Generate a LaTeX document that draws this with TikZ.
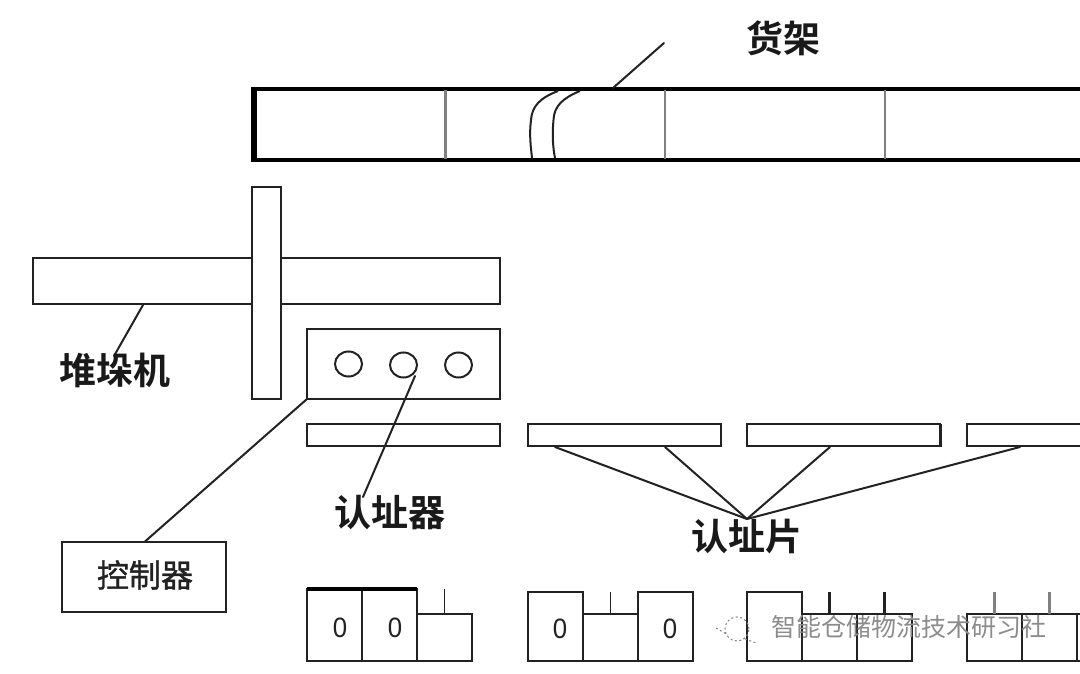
\documentclass[tikz,border=0pt]{standalone}
\usepackage{fontspec}
\setmainfont{Liberation Sans}
\newfontfamily\cjkbold{Noto Sans CJK SC Bold}
\newfontfamily\cjkreg{Noto Sans CJK SC}
\newfontfamily\cjkmed[FakeBold=1.2]{Noto Sans CJK SC}
\definecolor{ink}{HTML}{222222}
\tikzset{
  box/.style={draw=ink,line width=1.9pt,fill=white,anchor=north west,inner sep=0pt,outer sep=0pt},
  strip/.style={box,minimum width=193pt,minimum height=22pt},
  cell/.style={box,minimum width=55pt},
  hole/.style={draw=ink,line width=2pt,ellipse,minimum width=27pt,minimum height=25pt,inner sep=0pt,outer sep=0pt},
  leader/.style={draw=ink,line width=2pt,line cap=round},
  divider/.style={draw=black!50,line width=2.2pt},
  tick/.style={draw=ink,line width=1.7pt},
  biglabel/.style={font=\fontsize{37}{37}\selectfont\cjkbold,inner sep=0pt,text=black!90},
  digit/.style={font=\fontsize{28}{28}\selectfont,inner sep=0pt,text=ink,xscale=.92},
  mark text/.style={font=\fontsize{25}{25}\selectfont\cjkreg,inner sep=0pt,text=black!45},
}
\usetikzlibrary{shapes.geometric}
\begin{document}
\begin{tikzpicture}[x=1pt,y=-1pt]
\useasboundingbox (0,0) rectangle (1080,674);
\clip (0,0) rectangle (1080,674);
\fill[white] (0,0) rectangle (1080,674);

% rack
\node[box,draw=black,line width=3.5pt,minimum width=840pt,minimum height=71pt] (rack) at (252.5,89) {};
\fill[black] (252,87.5) rectangle (257,161);
\coordinate (d1t) at (445.5,90); \coordinate (d1b) at (445.5,159);
\coordinate (d2t) at (665,90); \coordinate (d2b) at (665,159);
\coordinate (d3t) at (885,90); \coordinate (d3b) at (885,159);
\draw[divider] (d1t) -- (d1b);
\draw[divider] (d2t) -- (d2b);
\draw[divider] (d3t) -- (d3b);
\coordinate (c1a) at (558,91); \coordinate (c1b) at (532,158);
\coordinate (c2a) at (580,91); \coordinate (c2b) at (555,158);
\draw[leader,line cap=butt] (c1a) .. controls (540,98) and (532,106) .. (531,120) .. controls (529,135) and (531,148) .. (c1b);
\draw[leader,line cap=butt] (c2a) .. controls (563,98) and (554,106) .. (553.5,120) .. controls (552,135) and (553,148) .. (c2b);
\coordinate (rackTip) at (664,43); \coordinate (rackFoot) at (613,88);
\draw[leader] (rackTip) -- (rackFoot);
\node[biglabel] (lrack) at (783.5,38) {货架};

% stacker
\node[box,minimum width=467pt,minimum height=46pt] (beam) at (33,258) {};
\node[box,minimum width=29pt,minimum height=212pt] (mast) at (252,187) {};
\node[box,minimum width=193pt,minimum height=70pt] (reader) at (307,329) {};
\node[hole] (h1) at (348.5,364) {};
\node[hole] (h2) at (403.5,365) {};
\node[hole] (h3) at (458.5,365) {};
\coordinate (beamFoot) at (143,305);
\coordinate (beamEnd) at (114,356);
\draw[leader] (beamFoot) -- (beamEnd);
\node[biglabel] (lstack) at (115,370) {堆垛机};

% strips
\node[strip] (s0) at (307,424) {};
\node[strip] (s1) at (528,424) {};
\node[strip] (s2) at (747,424) {};
\node[strip] (s3) at (967,424) {};
\fill[ink] (938.5,424) rectangle (941.5,447);

% reader leader, controller
\node[box,minimum width=164pt,minimum height=70pt] (ctrl) at (62,542) {};
\node[font=\fontsize{32}{32}\selectfont\cjkmed,inner sep=0pt,text=ink] (lctrl) at (145,575) {控制器};
\draw[leader] (reader.south west) -- (145,541.5);
\coordinate (readerTip) at (415,376);
\coordinate (readerEnd) at (363,497);
\draw[leader] (readerTip) -- (readerEnd);
\node[biglabel] (lreader) at (390,513) {认址器};

% plate leaders
\coordinate (p1) at (555,447); \coordinate (p2) at (665,447);
\coordinate (p3) at (830,447); \coordinate (p4) at (1020,447);
\coordinate (apex) at (747,519);
\draw[leader] (p1) -- (apex);
\draw[leader] (p2) -- (apex);
\draw[leader] (p3) -- (apex);
\draw[leader] (p4) -- (apex);
\node[biglabel] (lplate) at (747,537) {认址片};

% code group 1
\node[cell,minimum height=72pt] (a1) at (307,589) {};
\node[cell,minimum height=72pt] (a2) at (362,589) {};
\node[cell,minimum height=47pt] (a3) at (417,614) {};
\draw[black,line width=3.5pt] (a1.north west) -- (a2.north east);
\coordinate (at) at (444.5,589);
\draw[tick] (at) -- (a3.north);
\node[digit] (z1) at (340,628) {0};
\node[digit] (z2) at (395,628) {0};

% code group 2
\node[cell,minimum height=69pt] (b1) at (528,592) {};
\node[cell,minimum height=47pt] (b2) at (583,614) {};
\node[cell,minimum height=69pt] (b3) at (638,592) {};
\coordinate (bt) at (610.5,592);
\draw[tick] (bt) -- (b2.north);
\node[digit] (z3) at (560,629) {0};
\node[digit] (z4) at (670,629) {0};

% code group 3
\node[cell,minimum height=69pt] (c1) at (747,592) {};
\node[cell,minimum height=47pt] (c2) at (802,614) {};
\node[cell,minimum height=47pt] (c3) at (857,614) {};
\coordinate (ct1) at (829.5,592); \coordinate (ct2) at (884.5,592);
\draw[tick,line width=2.6pt] (ct1) -- (c2.north);
\draw[tick,line width=2.6pt] (ct2) -- (c3.north);

% code group 4
\node[cell,minimum height=47pt] (e1) at (967,614) {};
\node[cell,minimum height=47pt] (e2) at (1022,614) {};
\node[cell,minimum height=47pt] (e3) at (1077,614) {};
\coordinate (et1) at (994.5,592); \coordinate (et2) at (1049.5,592);
\draw[tick,draw=black!50,line width=2.6pt] (et1) -- (e1.north);
\draw[tick,draw=black!50,line width=2.6pt] (et2) -- (e2.north);

% watermark
\draw[black!50,line width=1pt,dash pattern=on 2pt off 2.5pt] (737,629) circle (12pt);
\draw[black!50,line width=1pt,dash pattern=on 2pt off 2.5pt] (716,628) -- (728,635);
\draw[black!50,line width=1pt,dash pattern=on 2pt off 2.5pt] (745,639) -- (756,643);
\node[mark text] (wm) at (908.5,627) {智能仓储物流技术研习社};
\end{tikzpicture}
\end{document}
